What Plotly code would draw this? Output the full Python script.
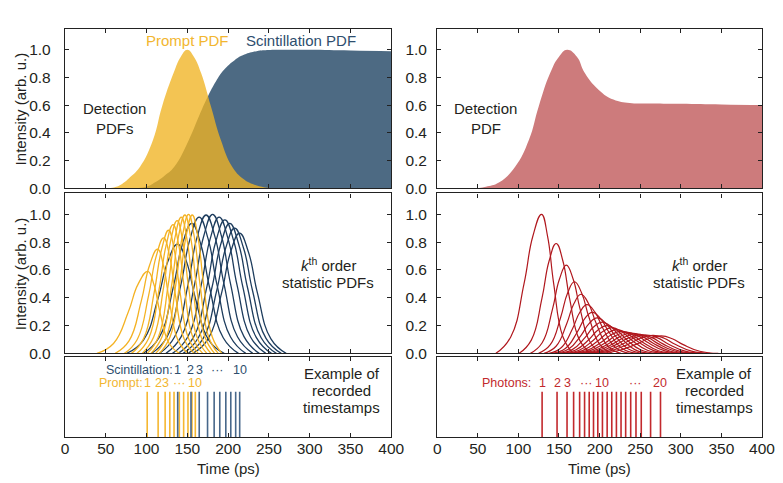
import plotly.graph_objects as go

# ---------------- data ----------------
# Top panels: detection PDFs
prompt_x = [50, 60, 70, 80, 92, 108, 119, 133, 142, 150, 158, 167, 179, 191, 205, 218, 230, 245, 255]
prompt_y = [0, 0.005, 0.03, 0.08, 0.155, 0.35, 0.59, 0.83, 0.95, 1.0, 0.95, 0.83, 0.59, 0.35, 0.155, 0.07, 0.03, 0.005, 0]

scint_x = [85, 100, 110, 122, 134, 152, 165, 175, 185, 195, 208, 220, 235, 250, 265, 300, 350, 400]
scint_y = [0, 0.01, 0.04, 0.09, 0.155, 0.35, 0.53, 0.66, 0.77, 0.855, 0.925, 0.965, 0.99, 0.998, 1.0, 1.0, 0.995, 0.99]

merged_x = [50, 60, 76, 96, 113, 125, 139, 150, 160, 172, 182, 199, 217, 237, 260, 300, 350, 400]
merged_y = [0, 0.01, 0.04, 0.155, 0.35, 0.59, 0.83, 0.95, 1.0, 0.95, 0.83, 0.71, 0.64, 0.615, 0.612, 0.61, 0.605, 0.6]

# Middle panels: k-th order statistic PDFs
prompt_k_x = [
    [39.1, 59.5, 77.5, 89.5, 101.5, 109, 116.5, 127.8, 140.5],
    [61.5, 78.5, 93.5, 103.5, 113.5, 120.8, 128, 138.9, 151.2],
    [72.9, 88.6, 102.5, 111.8, 121, 128.3, 135.5, 146.4, 158.7],
    [81.5, 96.4, 109.5, 118.3, 127, 134, 141, 151.5, 163.4],
    [88.3, 102.8, 115.5, 124, 132.5, 139.5, 146.5, 157, 168.9],
    [94.6, 108.6, 121, 129.3, 137.5, 144.5, 151.5, 162, 173.9],
    [100.9, 114.5, 126.5, 134.5, 142.5, 149.5, 156.5, 167, 178.9],
    [105.4, 119, 131, 139, 147, 154, 161, 171.5, 183.4],
    [111.2, 124.4, 136, 143.8, 151.5, 158.5, 165.5, 176, 187.9],
    [115.7, 128.9, 140.5, 148.3, 156, 163, 170, 180.5, 192.4],
]
prompt_k_y = [
    [0, 0.071, 0.295, 0.496, 0.59, 0.496, 0.295, 0.071, 0],
    [0, 0.09, 0.375, 0.63, 0.75, 0.63, 0.375, 0.09, 0],
    [0, 0.1, 0.415, 0.697, 0.83, 0.697, 0.415, 0.1, 0],
    [0, 0.106, 0.443, 0.743, 0.885, 0.743, 0.443, 0.106, 0],
    [0, 0.111, 0.463, 0.777, 0.925, 0.777, 0.463, 0.111, 0],
    [0, 0.115, 0.478, 0.802, 0.955, 0.802, 0.478, 0.115, 0],
    [0, 0.118, 0.49, 0.823, 0.98, 0.823, 0.49, 0.118, 0],
    [0, 0.119, 0.498, 0.836, 0.995, 0.836, 0.498, 0.119, 0],
    [0, 0.12, 0.5, 0.84, 1.0, 0.84, 0.5, 0.12, 0],
    [0, 0.119, 0.498, 0.836, 0.995, 0.836, 0.498, 0.119, 0],
]

scint_k_x = [
    [75.6, 96, 114, 126, 138, 149, 160, 176.5, 195.2],
    [95.7, 115.3, 132.5, 144, 155.5, 166.5, 177.5, 194, 212.7],
    [106, 125.1, 142, 153.3, 164.5, 175.5, 186.5, 203, 221.7],
    [115.8, 134.5, 151, 162, 173, 184, 195, 211.5, 230.2],
    [123.8, 142.5, 159, 170, 181, 192, 203, 219.5, 238.2],
    [131.8, 150.5, 167, 178, 189, 200, 211, 227.5, 246.2],
    [138.8, 157.5, 174, 185, 196, 207, 218, 234.5, 253.2],
    [144.8, 163.5, 180, 191, 202, 213, 224, 240.5, 259.2],
    [150.8, 169.5, 186, 197, 208, 219, 230, 246.5, 265.2],
    [156.8, 175.5, 192, 203, 214, 225, 236, 252.5, 271.2],
]
scint_k_y = [
    [0, 0.094, 0.393, 0.659, 0.785, 0.659, 0.393, 0.094, 0],
    [0, 0.112, 0.468, 0.785, 0.935, 0.785, 0.468, 0.112, 0],
    [0, 0.118, 0.49, 0.823, 0.98, 0.823, 0.49, 0.118, 0],
    [0, 0.119, 0.498, 0.836, 0.995, 0.836, 0.498, 0.119, 0],
    [0, 0.12, 0.5, 0.84, 1.0, 0.84, 0.5, 0.12, 0],
    [0, 0.118, 0.49, 0.823, 0.98, 0.823, 0.49, 0.118, 0],
    [0, 0.115, 0.48, 0.806, 0.96, 0.806, 0.48, 0.115, 0],
    [0, 0.112, 0.468, 0.785, 0.935, 0.785, 0.468, 0.112, 0],
    [0, 0.108, 0.45, 0.756, 0.9, 0.756, 0.45, 0.108, 0],
    [0, 0.104, 0.433, 0.727, 0.865, 0.727, 0.433, 0.104, 0],
]

merged_k_x = [
    [72.3, 90.7, 106.9, 117.7, 128.5, 136, 143.5, 154.8, 167.5],
    [101, 115.9, 129, 137.8, 146.5, 154.8, 163, 175.4, 189.4],
    [114.8, 129.3, 142, 150.5, 159, 167.5, 176, 188.8, 203.2],
    [124.8, 139.3, 152, 160.5, 169, 178, 187, 200.5, 215.8],
    [131.5, 146.4, 159.5, 168.3, 177, 186.5, 196, 210.3, 226.4],
    [137.7, 153, 166.5, 175.5, 184.5, 194.5, 204.5, 219.5, 236.5],
    [141.6, 157.8, 172, 181.5, 191, 201.5, 212, 227.8, 245.6],
    [145, 162, 177, 187, 197, 208, 219, 235.5, 254.2],
    [148.4, 166.3, 182, 192.5, 203, 214.5, 226, 243.3, 262.8],
    [151.8, 170.5, 187, 198, 209, 221, 233, 251, 271.4],
    [155.2, 174.8, 192, 203.5, 215, 227.5, 240, 258.8, 280],
    [158.6, 179, 197, 209, 221, 234, 247, 266.5, 288.6],
    [162, 183.3, 202, 214.5, 227, 240, 253, 272.5, 294.6],
    [165.4, 187.5, 207, 220, 233, 246.5, 260, 280.3, 303.2],
    [168.8, 191.8, 212, 225.5, 239, 252.5, 266, 286.3, 309.2],
    [172.2, 196, 217, 231, 245, 258.5, 272, 292.3, 315.2],
    [175.6, 200.3, 222, 236.5, 251, 264.5, 278, 298.3, 321.2],
    [180, 205.5, 228, 243, 258, 271.5, 285, 305.3, 328.2],
    [185.4, 211.8, 235, 250.5, 266, 279.5, 293, 313.3, 336.2],
    [192.8, 220, 244, 260, 276, 289.5, 303, 323.3, 346.2],
]
merged_k_y = [
    [0, 0.12, 0.5, 0.84, 1.0, 0.84, 0.5, 0.12, 0],
    [0, 0.095, 0.395, 0.664, 0.79, 0.664, 0.395, 0.095, 0],
    [0, 0.076, 0.318, 0.533, 0.635, 0.533, 0.318, 0.076, 0],
    [0, 0.062, 0.258, 0.433, 0.515, 0.433, 0.258, 0.062, 0],
    [0, 0.051, 0.213, 0.357, 0.425, 0.357, 0.213, 0.051, 0],
    [0, 0.042, 0.175, 0.294, 0.35, 0.294, 0.175, 0.042, 0],
    [0, 0.035, 0.148, 0.248, 0.295, 0.248, 0.148, 0.035, 0],
    [0, 0.031, 0.128, 0.214, 0.255, 0.214, 0.128, 0.031, 0],
    [0, 0.027, 0.113, 0.189, 0.225, 0.189, 0.113, 0.027, 0],
    [0, 0.024, 0.1, 0.168, 0.2, 0.168, 0.1, 0.024, 0],
    [0, 0.022, 0.093, 0.155, 0.185, 0.155, 0.093, 0.022, 0],
    [0, 0.02, 0.085, 0.143, 0.17, 0.143, 0.085, 0.02, 0],
    [0, 0.019, 0.08, 0.134, 0.16, 0.134, 0.08, 0.019, 0],
    [0, 0.018, 0.076, 0.128, 0.152, 0.128, 0.076, 0.018, 0],
    [0, 0.017, 0.073, 0.122, 0.145, 0.122, 0.073, 0.017, 0],
    [0, 0.017, 0.07, 0.118, 0.14, 0.118, 0.07, 0.017, 0],
    [0, 0.016, 0.068, 0.113, 0.135, 0.113, 0.068, 0.016, 0],
    [0, 0.016, 0.066, 0.111, 0.132, 0.111, 0.066, 0.016, 0],
    [0, 0.016, 0.065, 0.109, 0.13, 0.109, 0.065, 0.016, 0],
    [0, 0.015, 0.063, 0.105, 0.125, 0.105, 0.063, 0.015, 0],
]

# Bottom panels: recorded timestamps (ps)
prompt_ts = [100.8, 114.2, 122.8, 128.5, 133.7, 140.2, 145.5, 150.8, 155.7, 159.8]
scint_ts = [138.2, 154.5, 164.6, 174.8, 182.9, 189.8, 197.2, 203.3, 209.3, 214.2]
photon_ts = [129.2, 147.6, 159.9, 168, 175.4, 181.5, 187.2, 192.5, 197.8, 203.5,
             209.3, 215, 220.7, 226.4, 232.1, 238.3, 244.8, 251.3, 262.8, 275]
ellipsis_left_scint = [187]
ellipsis_left_prompt = [140]
ellipsis_right = [183.7, 244]

x_ticks = [0, 50, 100, 150, 200, 250, 300, 350, 400]
y_ticks = [0.0, 0.2, 0.4, 0.6, 0.8, 1.0]

# ---------------- styling ----------------
FONT = "Liberation Sans, Arial, Helvetica, sans-serif"
TXT = "#231f20"
Y_LINE = "#F4B223"
B_LINE = "#1E3D5E"
R_LINE = "#B0171D"
Y_TS = "#F5B731"
B_TS = "#47678A"
R_TS = "#C2292D"
Y_LAB = "#F2B630"
B_LAB = "#2E4E6E"
SMOOTH = 1.3

fig = go.Figure()

# top-left
fig.add_trace(go.Scatter(x=scint_x, y=scint_y, mode="lines",
                         line=dict(color="#4D6A83", width=0, shape="spline", smoothing=SMOOTH),
                         fill="tozeroy", fillcolor="#4D6A83", xaxis="x", yaxis="y", hoverinfo="skip"))
fig.add_trace(go.Scatter(x=prompt_x, y=prompt_y, mode="lines",
                         line=dict(color="rgba(0,0,0,0)", width=0, shape="spline", smoothing=SMOOTH),
                         fill="tozeroy", fillcolor="rgba(240,180,35,0.78)", xaxis="x", yaxis="y", hoverinfo="skip"))
# top-right
fig.add_trace(go.Scatter(x=merged_x, y=merged_y, mode="lines",
                         line=dict(color="#CD7B7C", width=0, shape="spline", smoothing=SMOOTH),
                         fill="tozeroy", fillcolor="#CD7B7C", xaxis="x4", yaxis="y4", hoverinfo="skip"))

# middle-left
for xs, ys in zip(scint_k_x, scint_k_y):
    fig.add_trace(go.Scatter(x=xs, y=ys, mode="lines",
                             line=dict(color=B_LINE, width=1.3, shape="spline", smoothing=SMOOTH),
                             xaxis="x2", yaxis="y2", hoverinfo="skip"))
for xs, ys in zip(prompt_k_x, prompt_k_y):
    fig.add_trace(go.Scatter(x=xs, y=ys, mode="lines",
                             line=dict(color=Y_LINE, width=1.3, shape="spline", smoothing=SMOOTH),
                             xaxis="x2", yaxis="y2", hoverinfo="skip"))
# middle-right
for xs, ys in zip(merged_k_x, merged_k_y):
    fig.add_trace(go.Scatter(x=xs, y=ys, mode="lines",
                             line=dict(color=R_LINE, width=1.2, shape="spline", smoothing=SMOOTH),
                             xaxis="x5", yaxis="y5", hoverinfo="skip"))

TS_TOP = 0.566


def stems(ts):
    xs, ys = [], []
    for t in ts:
        xs += [t, t, None]
        ys += [0, TS_TOP, None]
    return xs, ys


sx, sy = stems(prompt_ts)
fig.add_trace(go.Scatter(x=sx, y=sy, mode="lines", line=dict(color=Y_TS, width=1.6), xaxis="x3", yaxis="y3", hoverinfo="skip"))
sx, sy = stems(scint_ts)
fig.add_trace(go.Scatter(x=sx, y=sy, mode="lines", line=dict(color=B_TS, width=1.6), xaxis="x3", yaxis="y3", hoverinfo="skip"))
sx, sy = stems(photon_ts)
fig.add_trace(go.Scatter(x=sx, y=sy, mode="lines", line=dict(color=R_TS, width=1.6), xaxis="x6", yaxis="y6", hoverinfo="skip"))

# ---------------- axes ----------------
L_MARGIN, R_MARGIN = 65, 8
XL = [0, 0.468]
XR = [0.534, 1.0]
YT = [0.610, 1.0]
YM = [0.205, 0.597]
YB = [0.0, 0.196]


def xax(domain, anchor, labels):
    return dict(domain=domain, anchor=anchor, range=[0, 400], tickvals=x_ticks, ticks="inside", ticklen=4,
                tickcolor="#222", showline=True, linecolor="#222", linewidth=1.3, mirror="allticks",
                showgrid=False, zeroline=False, showticklabels=labels,
                tickfont=dict(family=FONT, size=15.5, color=TXT), ticklabelstandoff=-3)


def yax(domain, anchor, labels, rng, standoff=6):
    d = dict(domain=domain, anchor=anchor, range=rng, showline=True, linecolor="#222", linewidth=1.3,
             mirror=True, showgrid=False, zeroline=False, tickfont=dict(family=FONT, size=15.5, color=TXT))
    if labels:
        d.update(tickvals=y_ticks, ticktext=[f"{v:.1f}" for v in y_ticks], ticks="inside", ticklen=4,
                 tickcolor="#222", mirror="allticks", ticklabelstandoff=standoff)
    else:
        d.update(showticklabels=False, ticks="")
    return d


fig.update_layout(
    width=783, height=483, autosize=False,
    margin=dict(l=L_MARGIN, r=R_MARGIN, t=29, b=46),
    paper_bgcolor="white", plot_bgcolor="white",
    showlegend=False,
    font=dict(family=FONT, size=15, color=TXT),
    xaxis=xax(XL, "y", False), yaxis=yax(YT, "x", True, [0, 1.15], 10),
    xaxis2=xax(XL, "y2", False), yaxis2=yax(YM, "x2", True, [0, 1.15], 10),
    xaxis3=xax(XL, "y3", True), yaxis3=yax(YB, "x3", False, [0, 1]),
    xaxis4=xax(XR, "y4", False), yaxis4=yax(YT, "x4", True, [0, 1.15], 6),
    xaxis5=xax(XR, "y5", False), yaxis5=yax(YM, "x5", True, [0, 1.15], 6),
    xaxis6=xax(XR, "y6", True), yaxis6=yax(YB, "x6", False, [0, 1]),
)

ann = []


def A(text, x, y, xref, yref, size=15, color=TXT, xanchor="center", **kw):
    ann.append(dict(text=text, x=x, y=y, xref=xref, yref=yref, showarrow=False, xanchor=xanchor,
                    yanchor="middle", borderpad=0, font=dict(family=FONT, size=size, color=color), **kw))


# titles
A("Separated PDFs (<i>Split</i> model)", 200, 1.241, "x", "y")
A("Merged PDFs (<i>Joint</i> model)", 200, 1.241, "x4", "y4")
# top panel texts
A("Detection", 61, 0.578, "x", "y")
A("PDFs", 61, 0.433, "x", "y")
A("Detection", 60, 0.578, "x4", "y4")
A("PDF", 60, 0.433, "x4", "y4")
A("Prompt PDF", 150.4, 1.067, "x", "y", color=Y_LAB)
A("Scintillation PDF", 290, 1.067, "x", "y", color=B_LAB)
# middle texts
A("<i>k</i><sup>th</sup> order", 323, 0.64, "x2", "y2")
A("statistic PDFs", 323, 0.51, "x2", "y2")
A("<i>k</i><sup>th</sup> order", 323, 0.64, "x5", "y5")
A("statistic PDFs", 323, 0.51, "x5", "y5")
# bottom texts
for xr, yr, xc in (("x3", "y3", 339.5), ("x6", "y6", 341.5)):
    A("Example of", xc, 0.80, xr, yr)
    A("recorded", xc, 0.5875, xr, yr)
    A("timestamps", xc, 0.375, xr, yr)

SM = 12.5
Y_SC = 0.8375
Y_PR = 0.67
A("Scintillation:", scint_ts[0] - 4, Y_SC, "x3", "y3", size=SM, color=B_LAB, xanchor="right")
for i, lab in ((0, "1"), (1, "2"), (2, "3"), (9, "10")):
    A(lab, scint_ts[i], Y_SC, "x3", "y3", size=SM, color=B_LAB)
A("···", ellipsis_left_scint[0], Y_SC, "x3", "y3", size=SM, color=B_LAB)
A("Prompt:", prompt_ts[0] - 3.5, Y_PR, "x3", "y3", size=SM, color=Y_LAB, xanchor="right")
for i, lab in ((0, "1"), (1, "2"), (2, "3"), (9, "10")):
    A(lab, prompt_ts[i], Y_PR, "x3", "y3", size=SM, color=Y_LAB)
A("···", ellipsis_left_prompt[0], Y_PR, "x3", "y3", size=SM, color=Y_LAB)
A("Photons:", photon_ts[0] - 13, Y_PR, "x6", "y6", size=SM, color=R_TS, xanchor="right")
for i, lab in ((0, "1"), (1, "2"), (2, "3"), (9, "10"), (19, "20")):
    A(lab, photon_ts[i], Y_PR, "x6", "y6", size=SM, color=R_TS)
for e in ellipsis_right:
    A("···", e, Y_PR, "x6", "y6", size=SM, color=R_TS)

# axis titles (paper coords)
A("Intensity (arb. u.)", -45 / (783 - L_MARGIN - R_MARGIN), 0.805, "paper", "paper", textangle=-90)
A("Intensity (arb. u.)", -45 / (783 - L_MARGIN - R_MARGIN), 0.401, "paper", "paper", textangle=-90)
A("Time (ps)", sum(XL) / 2, -0.076, "paper", "paper")
A("Time (ps)", sum(XR) / 2, -0.076, "paper", "paper")

fig.update_layout(annotations=ann)
fig.write_html("out.html", config={"responsive": False},
               post_script="document.body.style.margin='0';document.body.style.overflow='hidden';")
